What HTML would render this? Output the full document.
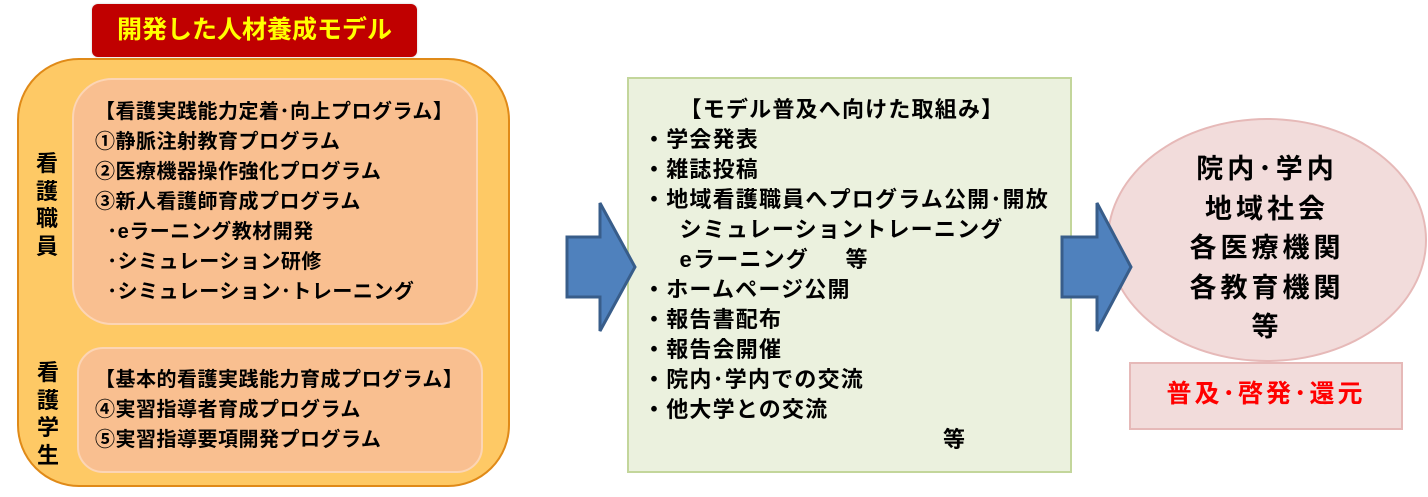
<!DOCTYPE html>
<html><head><meta charset="utf-8"><style>
body{margin:0;width:1428px;height:497px;background:#fff;position:relative;overflow:hidden;font-family:"Liberation Sans","Noto Sans CJK JP",sans-serif;font-weight:bold;color:#000}
.a{position:absolute}
.t{position:absolute;white-space:nowrap;font-size:20px;line-height:30px;letter-spacing:0.5px}
</style></head><body>
<div class="a" style="left:92px;top:4px;width:325px;height:53px;background:#c00000;border-radius:6px;box-shadow:0 0 2px #ccc"></div>
<div class="t" style="left:92px;top:12px;width:325px;text-align:center;color:#ffff00;font-size:25px;line-height:36px;letter-spacing:0">開発した人材養成モデル</div>
<div class="a" style="left:17px;top:58px;width:489px;height:425px;background:#fec965;border:2px solid #e08a18;border-radius:62px"></div>
<div class="a" style="left:72px;top:78px;width:402px;height:243px;background:#f9bf90;border:2px solid #fcd5b5;border-radius:40px"></div>
<div class="a" style="left:77px;top:347px;width:402px;height:122px;background:#f9bf90;border:2px solid #fcd5b5;border-radius:26px"></div>
<div class="t" style="left:36px;top:150px;width:24px;font-size:22px;line-height:27.5px;white-space:normal">看護職員</div>
<div class="t" style="left:37px;top:359px;width:24px;font-size:22px;line-height:27.5px;white-space:normal">看護学生</div>
<div class="t" style="left:95px;top:97px">【看護実践能力定着･向上プログラム】<br>①静脈注射教育プログラム<br>②医療機器操作強化プログラム<br>③新人看護師育成プログラム<br>&nbsp;&nbsp;･eラーニング教材開発<br>&nbsp;&nbsp;･シミュレーション研修<br>&nbsp;&nbsp;･シミュレーション･トレーニング</div>
<div class="t" style="left:95px;top:365px">【基本的看護実践能力育成プログラム】<br>④実習指導者育成プログラム<br>⑤実習指導要項開発プログラム</div>
<div class="a" style="left:627px;top:77px;width:441px;height:392px;background:#ebf1de;border:2px solid #c3d69b"></div>
<div class="t" style="left:643px;top:95px;font-size:22px;letter-spacing:1.2px">&nbsp;&nbsp;&nbsp;&nbsp;&nbsp;【モデル普及へ向けた取組み】<br>・学会発表<br>・雑誌投稿<br>・地域看護職員へプログラム公開･開放<br>&nbsp;&nbsp;&nbsp;&nbsp;&nbsp;シミュレーショントレーニング<br>&nbsp;&nbsp;&nbsp;&nbsp;&nbsp;eラーニング&nbsp;&nbsp;&nbsp;&nbsp;&nbsp;等<br>・ホームページ公開<br>・報告書配布<br>・報告会開催<br>・院内･学内での交流<br>・他大学との交流</div>
<div class="t" style="left:943px;top:425px;font-size:22px">等</div>
<div class="a" style="left:1107px;top:118px;width:316px;height:240px;background:#f2dcdb;border:2px solid #e6b9b8;border-radius:50%"></div>
<div class="t" style="left:1107px;top:150px;width:320px;text-align:center;font-size:27px;line-height:39.5px;letter-spacing:4px">院内･学内<br>地域社会<br>各医療機関<br>各教育機関<br>等</div>
<div class="a" style="left:1129px;top:362px;width:270px;height:64px;background:#f2dcdb;border:2px solid #e6b9b8"></div>
<div class="t" style="left:1129px;top:379px;width:274px;text-align:center;color:#ff0000;font-size:25px;letter-spacing:3px">普及･啓発･還元</div>
<svg class="a" style="left:0;top:0" width="1428" height="497">
<polygon points="567,237 600,237 600,203 635,267 600,331 600,297 567,297" fill="#4f81bd" stroke="#385d8a" stroke-width="3"/>
<polygon points="1062,237 1097,237 1097,203 1131,267 1097,331 1097,297 1062,297" fill="#4f81bd" stroke="#385d8a" stroke-width="3"/>
</svg>
</body></html>
